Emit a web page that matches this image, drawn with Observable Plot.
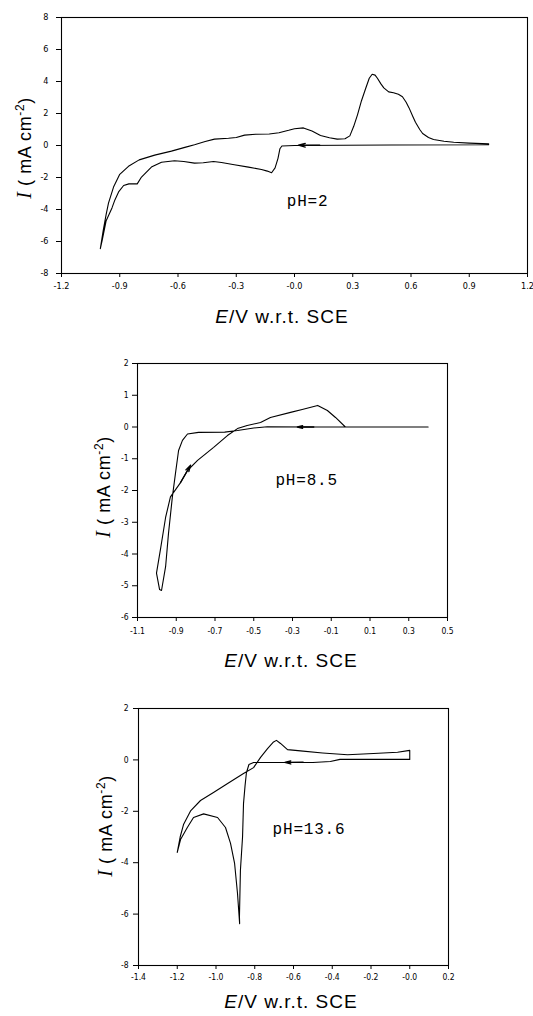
<!DOCTYPE html>
<html>
<head>
<meta charset="utf-8">
<script src="https://cdn.jsdelivr.net/npm/d3@7"></script>
<script src="https://cdn.jsdelivr.net/npm/@observablehq/plot@0.6"></script>
<style>
  html, body { margin: 0; padding: 0; background: #fff; }
  #wrap { position: relative; width: 533px; height: 1016px; overflow: hidden; background: #fff; }
  #wrap svg { position: absolute; left: 0; }
</style>
</head>
<body>
<div id="wrap"></div>
<script>
// ---------- pH = 2 ----------
const ph2E = [1.0, 0.5, 0.0, -0.065, -0.075, -0.085, -0.1, -0.118, -0.14, -0.17, -0.237, -0.31, -0.376, -0.417, -0.47, -0.515, -0.57, -0.618, -0.685, -0.737, -0.788, -0.81, -0.853, -0.88, -0.906, -0.925, -0.94, -0.97, -0.99, -1.0,
  -0.985, -0.97, -0.958, -0.932, -0.9, -0.855, -0.8, -0.72, -0.634, -0.56, -0.515, -0.46, -0.412, -0.34, -0.3, -0.257, -0.2, -0.13, -0.08, -0.03, 0.0, 0.046, 0.09, 0.134, 0.18, 0.22, 0.26, 0.285, 0.305, 0.324, 0.345, 0.366, 0.385, 0.4, 0.415, 0.427, 0.445, 0.46, 0.485, 0.51, 0.535, 0.556, 0.575, 0.59, 0.61, 0.623, 0.645, 0.66, 0.69, 0.716, 0.77, 0.82, 0.9, 1.0];
const ph2I = [0.05, 0.03, 0.0, -0.03, -0.2, -0.8, -1.4, -1.7, -1.6, -1.5, -1.35, -1.2, -1.06, -1.0, -1.08, -1.1, -1.0, -0.95, -1.05, -1.35, -1.97, -2.4, -2.4, -2.5, -2.9, -3.4, -3.9, -4.7, -5.9, -6.45,
  -5.3, -4.3, -3.6, -2.6, -1.8, -1.3, -0.9, -0.6, -0.35, -0.1, 0.05, 0.25, 0.4, 0.45, 0.5, 0.65, 0.7, 0.72, 0.8, 0.95, 1.05, 1.1, 0.9, 0.63, 0.48, 0.4, 0.42, 0.6, 1.2, 1.9, 2.8, 3.55, 4.2, 4.45, 4.4, 4.2, 3.85, 3.6, 3.35, 3.3, 3.2, 3.05, 2.7, 2.35, 1.8, 1.45, 1.0, 0.75, 0.5, 0.37, 0.27, 0.2, 0.15, 0.1];

// ---------- pH = 8.5 ----------
const ph85E = [0.4, -0.03, -0.2, -0.43, -0.5, -0.584, -0.65, -0.785, -0.842, -0.868, -0.888, -0.904, -0.92, -0.94, -0.955, -0.976, -0.986, -1.002,
  -0.98, -0.955, -0.93, -0.878, -0.842, -0.79, -0.707, -0.636, -0.584, -0.534, -0.465, -0.414, -0.31, -0.25, -0.17, -0.12, -0.078, -0.027];
const ph85I = [0.0, 0.0, 0.0, 0.01, -0.03, -0.11, -0.16, -0.17, -0.22, -0.42, -0.74, -1.46, -2.2, -3.35, -4.4, -5.15, -5.12, -4.6,
  -3.8, -2.85, -2.2, -1.75, -1.37, -1.05, -0.64, -0.27, -0.05, 0.05, 0.14, 0.3, 0.46, 0.55, 0.68, 0.52, 0.3, 0.0];

// ---------- pH = 13.6 ----------
const ph136E = [0.0, -0.36, -0.41, -0.5, -0.806, -0.83, -0.843, -0.85, -0.858, -0.863, -0.874, -0.879, -0.878,
  -0.889, -0.904, -0.925, -0.951, -0.992, -1.064, -1.116, -1.148, -1.183, -1.2,
  -1.185, -1.167, -1.13, -1.08, -1.013, -0.94, -0.858, -0.806, -0.77, -0.734, -0.703, -0.688, -0.667, -0.631, -0.564, -0.45, -0.321, -0.187, -0.063, 0.0, 0.0];
const ph136I = [0.02, 0.02, -0.06, -0.1, -0.1, -0.18, -0.5, -1.0, -1.7, -3.0, -4.3, -6.1, -6.37,
  -5.2, -4.03, -3.25, -2.63, -2.24, -2.1, -2.24, -2.63, -3.1, -3.6,
  -3.0, -2.5, -1.97, -1.58, -1.27, -0.92, -0.53, -0.3, 0.1, 0.44, 0.7, 0.76, 0.64, 0.4, 0.35, 0.27, 0.2, 0.25, 0.3, 0.37, 0.02];

// ---------- sweep-direction arrows (data units) ----------
const ph2Arrows = {x1: [0.13], y1: [0.02], x2: [0.02], y2: [0.02]};
const ph85Arrows = {x1: [-0.19, -0.878], y1: [0.0, -1.75], x2: [-0.275, -0.826], y2: [0.0, -1.2]};
const ph136Arrows = {x1: [-0.55], y1: [-0.09], x2: [-0.645], y2: [-0.1]};

// ---------- ticks ----------
const topTicksX = [-1.2, -0.9, -0.6, -0.3, 0, 0.3, 0.6, 0.9, 1.2];
const topLabelsX = ["-1.2", "-0.9", "-0.6", "-0.3", "-0.0", "0.3", "0.6", "0.9", "1.2"];
const topTicksY = [8, 6, 4, 2, 0, -2, -4, -6, -8];
const midTicksX = [-1.1, -0.9, -0.7, -0.5, -0.3, -0.1, 0.1, 0.3, 0.5];
const midLabelsX = ["-1.1", "-0.9", "-0.7", "-0.5", "-0.3", "-0.1", "0.1", "0.3", "0.5"];
const midTicksY = [2, 1, 0, -1, -2, -3, -4, -5, -6];
const botTicksX = [-1.4, -1.2, -1.0, -0.8, -0.6, -0.4, -0.2, 0, 0.2];
const botLabelsX = ["-1.4", "-1.2", "-1.0", "-0.8", "-0.6", "-0.4", "-0.2", "-0.0", "0.2"];
const botTicksY = [2, 0, -2, -4, -6, -8];

const panels = [
  {top: 0, height: 335, mt: 17, mb: 62, ml: 61, mr: 6, xd: [-1.2, 1.2], yd: [-8, 8],
   E: ph2E, I: ph2I, arrows: ph2Arrows, xt: topTicksX, xl: topLabelsX, yt: topTicksY,
   ytp: 8, xtp: 5, fs: 9, pH: "pH=2", pHx: -0.04, pHy: -3.45, ylab: [25, 148], xlab: [282, 316]},
  {top: 335, height: 335, mt: 28, mb: 53, ml: 137, mr: 86, xd: [-1.1, 0.5], yd: [-6, 2],
   E: ph85E, I: ph85I, arrows: ph85Arrows, xt: midTicksX, xl: midLabelsX, yt: midTicksY,
   ytp: 4, xtp: 6, fs: 8.5, pH: "pH=8.5", pHx: -0.388, pHy: -1.68, ylab: [104, 152], xlab: [291, 325]},
  {top: 670, height: 346, mt: 38, mb: 51, ml: 138, mr: 85, xd: [-1.4, 0.2], yd: [-8, 2],
   E: ph136E, I: ph136I, arrows: ph136Arrows, xt: botTicksX, xl: botLabelsX, yt: botTicksY,
   ytp: 5, xtp: 4, fs: 8.5, pH: "pH=13.6", pHx: -0.708, pHy: -2.67, ylab: [106, 156], xlab: [291, 331]}
];

const wrap = document.getElementById("wrap");

for (const p of panels) {
  const pts = p.E.map((e, i) => ({E: e, I: p.I[i]}));
  const arr = p.arrows.x1.map((v, i) => ({x1: v, y1: p.arrows.y1[i], x2: p.arrows.x2[i], y2: p.arrows.y2[i]}));
  const svg = Plot.plot({
    width: 533,
    height: p.height,
    marginTop: p.mt, marginBottom: p.mb, marginLeft: p.ml, marginRight: p.mr,
    x: {domain: p.xd},
    y: {domain: p.yd},
    style: {fontFamily: "'DejaVu Sans Condensed', 'DejaVu Sans', sans-serif", fontSize: p.fs + "px", color: "black", background: "white"},
    marks: [
      Plot.frame({stroke: "black", strokeWidth: 1.1}),
      Plot.axisX({ticks: p.xt, tickFormat: d => p.xl[p.xt.indexOf(d)], tickSize: 4, tickPadding: p.xtp, label: null, stroke: "black"}),
      Plot.axisY({ticks: p.yt, tickFormat: d => String(d), tickSize: 5, tickPadding: p.ytp, label: null, stroke: "black"}),
      Plot.line(pts, {x: "E", y: "I", stroke: "black", strokeWidth: 1.1, strokeLinejoin: "round"}),
      Plot.arrow(arr, {x1: "x1", y1: "y1", x2: "x2", y2: "y2", stroke: "black", strokeWidth: 1.3, headLength: 9, headAngle: 30}),
      Plot.text([p.pH], {x: () => p.pHx, y: () => p.pHy, text: d => d, textAnchor: "start", fontFamily: "'Liberation Mono', 'Courier New', monospace", fontSize: 16, fill: "black"})
    ]
  });
  svg.style.top = p.top + "px";
  const s = d3.select(svg);
  s.selectAll("text").filter(function() { return this.textContent.startsWith("pH"); })
    .style("letter-spacing", "0.8px");

  // y-axis label
  const yl = s.append("text")
    .attr("transform", `translate(${p.ylab[0]},${p.ylab[1]}) rotate(-90)`)
    .attr("text-anchor", "middle")
    .attr("dy", "0.35em")
    .style("font-family", "'Liberation Sans', Arial, sans-serif")
    .style("font-size", "18px")
    .style("letter-spacing", "0.6px")
    .attr("fill", "black");
  yl.append("tspan").style("font-family", "'Liberation Serif', serif").style("font-style", "italic").style("font-size", "20px").text("I");
  yl.append("tspan").text(" ( mA cm");
  yl.append("tspan").attr("dy", "-7").style("font-size", "12px").text("-2");
  yl.append("tspan").attr("dy", "7").text(")");

  // x-axis label
  const xl = s.append("text")
    .attr("x", p.xlab[0]).attr("y", p.xlab[1])
    .attr("text-anchor", "middle")
    .attr("dy", "0.35em")
    .style("font-family", "'Liberation Sans', Arial, sans-serif")
    .style("font-size", "19px")
    .style("letter-spacing", "1px")
    .attr("fill", "black");
  xl.append("tspan").style("font-style", "italic").text("E");
  xl.append("tspan").text("/V w.r.t. SCE");

  wrap.appendChild(svg);
}
</script>
</body>
</html>
